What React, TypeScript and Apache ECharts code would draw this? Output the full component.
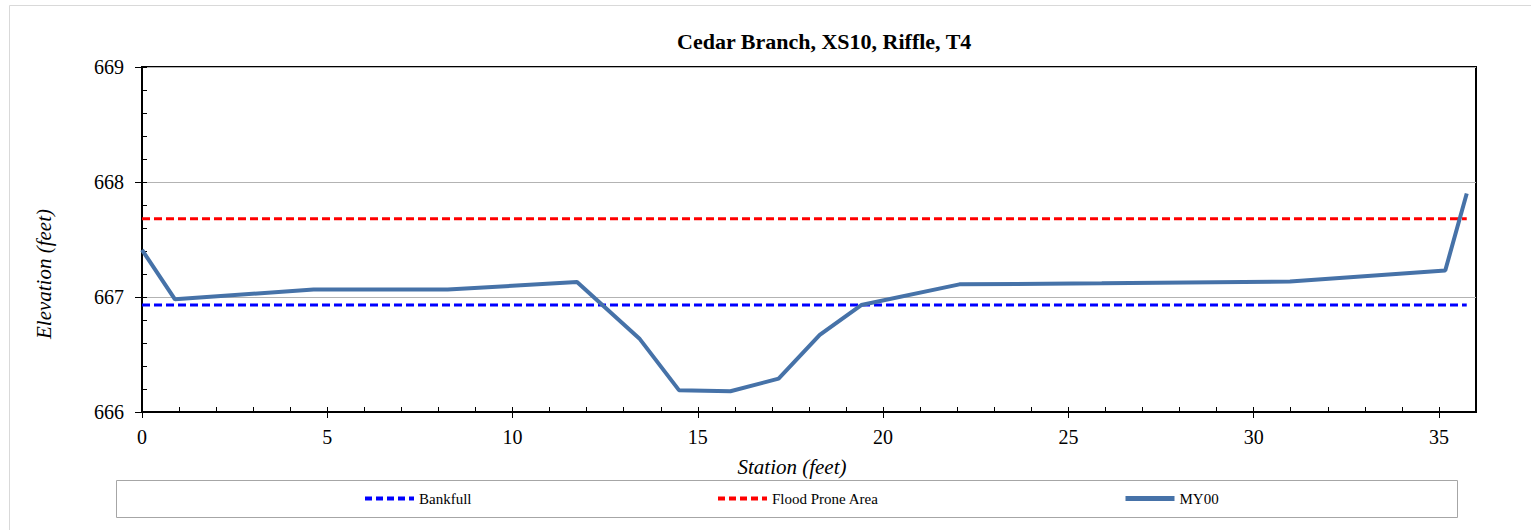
import React, { useEffect, useRef } from "react";
import * as echarts from "echarts";

const FONT = "'Liberation Serif', 'Times New Roman', Times, serif";

const chartTitle = "Cedar Branch, XS10, Riffle, T4";
const xAxisTitle = "Station (feet)";
const yAxisTitle = "Elevation (feet)";

const seriesNames = ["Bankfull", "Flood Prone Area", "MY00"];

// MY00 surveyed cross-section
const my00Station = [0, 0.89, 4.63, 8.25, 11.74, 13.42, 14.49, 15.88, 17.18, 18.29, 19.41, 22.06, 25.9, 30.98, 35.17, 35.75];
const my00Elevation = [667.41, 666.98, 667.065, 667.065, 667.13, 666.64, 666.19, 666.18, 666.29, 666.67, 666.93, 667.11, 667.12, 667.135, 667.23, 667.9];

// Horizontal reference lines
const referenceStations = [0, 35.75];
const bankfullElevation = 666.93;
const floodProneElevation = 667.68;

const xMin = 0;
const xMax = 36;
const xInterval = 5;
const yMin = 666;
const yMax = 669;
const yInterval = 1;

export default function App() {
  const ref = useRef<HTMLDivElement>(null);

  useEffect(() => {
    if (!ref.current) return;
    const chart = echarts.init(ref.current, undefined, { renderer: "svg" });

    const my00Data = my00Station.map((s, i) => [s, my00Elevation[i]]);
    const bankfullData = referenceStations.map((s) => [s, bankfullElevation]);
    const floodData = referenceStations.map((s) => [s, floodProneElevation]);

    const legendCommon = {
      padding: 0,
      itemWidth: 49,
      itemHeight: 14,
      top: 491,
      itemStyle: { opacity: 0 },
      textStyle: { fontFamily: FONT, fontSize: 15, color: "#000" },
    };

    const option: any = {
      animation: false,
      textStyle: { fontFamily: FONT },
      title: {
        text: chartTitle,
        left: 677,
        top: 30,
        padding: 0,
        textStyle: { fontFamily: FONT, fontSize: 22, fontWeight: "bold", color: "#000" },
      },
      grid: {
        left: 142,
        top: 67,
        width: 1334,
        height: 345,
        show: true,
        borderColor: "#000",
        borderWidth: 2,
        backgroundColor: "transparent",
      },
      legend: [
        { ...legendCommon, data: [seriesNames[0]], left: 363, lineStyle: { width: 4, type: [7, 4] } },
        { ...legendCommon, data: [seriesNames[1]], left: 716, lineStyle: { width: 4, type: [7, 4] } },
        { ...legendCommon, data: [seriesNames[2]], left: 1123, lineStyle: { width: 5 } },
      ],
      xAxis: [
        {
          type: "value",
          min: xMin,
          max: xMax,
          interval: xInterval,
          axisLine: { show: true, onZero: false, lineStyle: { color: "#000", width: 2 } },
          axisTick: { show: true, length: 6, lineStyle: { color: "#000", width: 1 } },
          axisLabel: { margin: 15, fontSize: 20, color: "#000", fontFamily: FONT, showMaxLabel: false },
          splitLine: { show: false },
        },
        {
          type: "value",
          min: xMin,
          max: xMax,
          interval: 1,
          position: "bottom",
          axisLine: { show: false },
          axisTick: { show: true, inside: true, length: 5, lineStyle: { color: "#000", width: 1 } },
          axisLabel: { show: false },
          splitLine: { show: false },
        },
      ],
      yAxis: [
        {
          type: "value",
          min: yMin,
          max: yMax,
          interval: yInterval,
          axisLine: { show: true, onZero: false, lineStyle: { color: "#000", width: 2 } },
          axisTick: { show: true, length: 7, lineStyle: { color: "#000", width: 1 } },
          axisLabel: { margin: 18, fontSize: 20, color: "#000", fontFamily: FONT },
          splitLine: { show: true, lineStyle: { color: "#b3b3b3", width: 1 } },
        },
        {
          type: "value",
          min: yMin,
          max: yMax,
          interval: 0.2,
          position: "left",
          axisLine: { show: false },
          axisTick: { show: true, inside: true, length: 5, lineStyle: { color: "#000", width: 1 } },
          axisLabel: { show: false },
          splitLine: { show: false },
        },
      ],
      series: [
        {
          name: seriesNames[0],
          type: "line",
          data: bankfullData,
          symbol: "none",
          lineStyle: { color: "#0000ff", width: 3, type: [8, 4] },
          itemStyle: { color: "#0000ff" },
          z: 3,
        },
        {
          name: seriesNames[1],
          type: "line",
          data: floodData,
          symbol: "none",
          lineStyle: { color: "#ff0000", width: 3, type: [8, 4] },
          itemStyle: { color: "#ff0000" },
          z: 3,
        },
        {
          name: seriesNames[2],
          type: "line",
          data: my00Data,
          symbol: "none",
          lineStyle: { color: "#4672a8", width: 4 },
          itemStyle: { color: "#4672a8" },
          z: 4,
        },
      ],
      graphic: [
        {
          type: "rect",
          silent: true,
          z: -10,
          shape: { x: 9.5, y: 5.5, width: 1600, height: 600 },
          style: { fill: "none", stroke: "#d9d9d9", lineWidth: 1 },
        },
        {
          type: "rect",
          silent: true,
          shape: { x: 116.5, y: 480.5, width: 1341, height: 37 },
          style: { fill: "none", stroke: "#a6a6a6", lineWidth: 1 },
        },
        {
          type: "text",
          x: 792,
          y: 467,
          style: {
            text: xAxisTitle,
            font: `italic 21px ${FONT}`,
            fill: "#000",
            align: "center",
            verticalAlign: "middle",
          },
        },
        {
          type: "text",
          x: 44,
          y: 274,
          rotation: Math.PI / 2,
          style: {
            text: yAxisTitle,
            font: `italic 21px ${FONT}`,
            fill: "#000",
            align: "center",
            verticalAlign: "middle",
          },
        },
      ],
    };

    chart.setOption(option);
    return () => {
      chart.dispose();
    };
  }, []);

  return (
    <div
      ref={ref}
      style={{ position: "absolute", left: 0, top: 0, width: 1531, height: 530, background: "#fff" }}
    />
  );
}
